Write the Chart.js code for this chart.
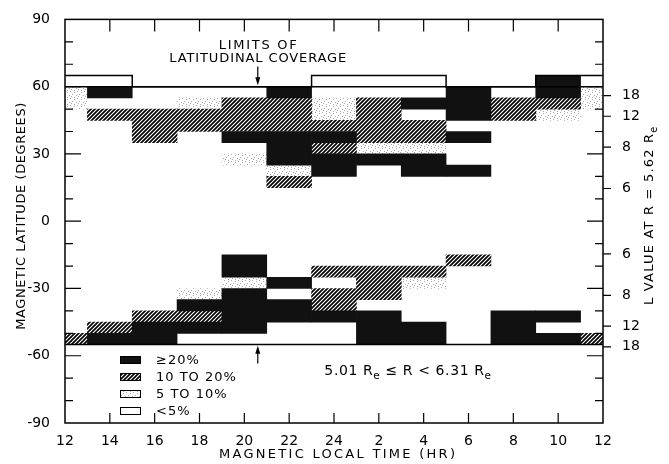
<!DOCTYPE html>
<html>
<head>
<meta charset="utf-8">
<script src="https://cdn.jsdelivr.net/npm/chart.js@4.4.0/dist/chart.umd.min.js"></script>
<style>
  html, body { margin: 0; padding: 0; background: #fff; }
  #wrap { width: 669px; height: 464px; }
</style>
</head>
<body>
<div id="wrap"><canvas id="chart"></canvas></div>
<script>
// column centres in hours (12 .. 36, where 26 = 02 LT, 36 = 12 LT)
const HOURS = [12, 14, 16, 18, 20, 22, 24, 26, 28, 30, 32, 34, 36]

// limits of latitudinal coverage per column
const COVER_TOP   = [65, 65, 60, 60, 60, 60, 65, 65, 65, 60, 60, 65, 65]
const COVER_NORTH = [60, 60, 60, 60, 60, 60, 60, 60, 60, 60, 60, 60, 60]
const COVER_SOUTH = [-55, -55, -55, -55, -55, -55, -55, -55, -55, -55, -55, -55, -55]

// right axis: L values at R = 5.62 Re
const L_VALUES = [6, 8, 12, 18]
const L_RADIUS = 5.62

// cells: [hour, lat from, lat to]
const CELLS_20_UP = [
    [14, 55, 60], [20, 35, 40], [22, 55, 60], [22, 25, 40], [24, 35, 40], [24, 20, 30],
    [26, 25, 30], [28, 50, 55], [28, 20, 30], [30, 45, 60], [30, 35, 40], [30, 20, 25],
    [34, 55, 65],
    [14, -55, -50], [16, -55, -45], [18, -40, -35], [18, -50, -45], [20, -25, -15],
    [20, -50, -30], [22, -30, -25], [22, -45, -35], [24, -45, -40], [26, -55, -40],
    [28, -55, -45], [32, -55, -40], [34, -45, -40], [34, -55, -50]
]
const CELLS_10_20 = [
    [14, 45, 50], [16, 35, 50], [18, 40, 50], [20, 40, 55], [22, 40, 55], [22, 15, 20],
    [24, 40, 45], [24, 30, 35], [26, 35, 55], [28, 35, 45], [32, 45, 55], [34, 50, 55],
    [12, -55, -50], [14, -50, -45], [16, -45, -40], [18, -45, -40], [24, -25, -20],
    [24, -40, -30], [26, -35, -20], [28, -25, -20], [30, -20, -15], [36, -55, -50]
]
const CELLS_5_10 = [
    [12, 50, 60], [18, 50, 55], [20, 25, 30], [22, 20, 25], [24, 45, 55], [26, 30, 35],
    [28, 30, 35], [34, 45, 50], [36, 50, 60],
    [18, -35, -30], [20, -30, -25], [28, -30, -25]
]

const LEGEND_LABELS = ['\u226520%', '10 TO 20%', '5 TO 10%', '<5%']

const FONT = "'DejaVu Sans', sans-serif"


function makeHatch() {
    const c = document.createElement('canvas')
    c.width = 4; c.height = 4
    const g = c.getContext('2d')
    g.fillStyle = '#fff'
    g.fillRect(0, 0, 4, 4)
    g.strokeStyle = '#000'
    g.lineWidth = 1.7
    g.beginPath()
    g.moveTo(-1, 5); g.lineTo(5, -1)
    g.moveTo(-1, 1); g.lineTo(1, -1)
    g.moveTo(3, 5); g.lineTo(5, 3)
    g.stroke()
    return g.createPattern(c, 'repeat')
}

function makeStipple() {
    const c = document.createElement('canvas')
    c.width = 7; c.height = 7
    const g = c.getContext('2d')
    g.fillStyle = '#fff'
    g.fillRect(0, 0, 7, 7)
    g.fillStyle = '#a8a8a8'
    g.fillRect(0, 0, 1, 1)
    g.fillRect(4, 1, 1, 1)
    g.fillRect(2, 3, 1, 1)
    g.fillRect(6, 4, 1, 1)
    g.fillRect(1, 5, 1, 1)
    g.fillRect(4, 6, 1, 1)
    return g.createPattern(c, 'repeat')
}

const HATCH = makeHatch()
const STIPPLE = makeStipple()

function toBars(cells) {
    return cells.map(c => ({ x: c[0], y: [c[1], c[2]] }))
}

function toLine(values) {
    return HOURS.map((h, i) => ({ x: h, y: values[i] }))
}

function lLatitudes() {
    const out = []
    L_VALUES.forEach(l => {
        const lat = Math.acos(Math.sqrt(L_RADIUS / l)) * 180 / Math.PI
        out.push(lat, -lat)
    })
    return out.sort((a, b) => a - b)
}

function spaced(ctx, text, cx, cy, width) {
    ctx.letterSpacing = '0px'
    const w = ctx.measureText(text).width
    ctx.letterSpacing = ((width - w) / (text.length - 1)) + 'px'
    ctx.textAlign = 'left'
    ctx.fillText(text, cx - width / 2, cy)
    ctx.letterSpacing = '0px'
}

function rich(ctx, parts, cx, cy, size, spacing) {
    ctx.letterSpacing = spacing + 'px'
    let w = 0
    parts.forEach(p => {
        ctx.font = (p.sub ? size * 0.75 : size) + 'px ' + FONT
        w += ctx.measureText(p.t).width
    })
    let px = cx - w / 2
    ctx.textAlign = 'left'
    parts.forEach(p => {
        ctx.font = (p.sub ? size * 0.75 : size) + 'px ' + FONT
        ctx.fillText(p.t, px, cy + (p.sub ? size * 0.35 : 0))
        px += ctx.measureText(p.t).width
    })
    ctx.letterSpacing = '0px'
}

function arrow(ctx, x, y0, y1) {
    const dir = y1 > y0 ? 1 : -1
    ctx.beginPath()
    ctx.moveTo(x, y0)
    ctx.lineTo(x, y1 - dir * 6)
    ctx.stroke()
    ctx.beginPath()
    ctx.moveTo(x, y1)
    ctx.lineTo(x - 2.5, y1 - dir * 8)
    ctx.lineTo(x + 2.5, y1 - dir * 8)
    ctx.closePath()
    ctx.fill()
}


const decor = {
    id: 'decor',
    afterDraw(chart) {
        const { ctx, chartArea: a, scales } = chart
        const x = scales.x, y = scales.y, y2 = scales.y2
        ctx.save()
        ctx.strokeStyle = '#000'
        ctx.fillStyle = '#000'

        // frame
        ctx.lineWidth = 1.5
        ctx.strokeRect(a.left, a.top, a.right - a.left, a.bottom - a.top)

        // inward ticks
        ctx.lineWidth = 1.2
        ctx.beginPath()
        for (let lat = -80; lat <= 80; lat += 10) {
            const py = y.getPixelForValue(lat)
            const len = lat % 30 === 0 ? 16 : 8
            ctx.moveTo(a.left, py); ctx.lineTo(a.left + len, py)
            ctx.moveTo(a.right, py); ctx.lineTo(a.right - len, py)
        }
        for (let h = 14; h <= 34; h += 2) {
            const px = x.getPixelForValue(h)
            ctx.moveTo(px, a.bottom); ctx.lineTo(px, a.bottom - 10)
            ctx.moveTo(px, a.top); ctx.lineTo(px, a.top + 12)
        }
        y2.ticks.forEach(t => {
            const py = y2.getPixelForValue(t.value)
            ctx.moveTo(a.right, py); ctx.lineTo(a.right + 8, py)
        })
        ctx.stroke()

        // axis titles
        ctx.textBaseline = 'middle'
        ctx.font = '13px ' + FONT
        spaced(ctx, 'MAGNETIC LOCAL TIME (HR)', (a.left + a.right) / 2 + 3, a.bottom + 32, 236)

        ctx.save()
        ctx.translate(22, (a.top + a.bottom) / 2 - 5)
        ctx.rotate(-Math.PI / 2)
        spaced(ctx, 'MAGNETIC LATITUDE (DEGREES)', 0, 0, 227)
        ctx.restore()

        ctx.save()
        ctx.translate(a.right + 47, (a.top + a.bottom) / 2 - 6)
        ctx.rotate(-Math.PI / 2)
        rich(ctx, [{ t: 'L VALUE AT R = 5.62 R' }, { t: 'e', sub: true }], 0, 0, 13, 1.2)
        ctx.restore()

        // coverage annotation
        const ax = x.getPixelForValue(20.6)
        ctx.font = '13px ' + FONT
        spaced(ctx, 'LIMITS OF', ax, a.top + 26, 78)
        spaced(ctx, 'LATITUDINAL COVERAGE', ax, a.top + 39, 177)
        ctx.lineWidth = 1.2
        arrow(ctx, ax, y.getPixelForValue(69), y.getPixelForValue(60.6))
        arrow(ctx, ax, y.getPixelForValue(-63.5), y.getPixelForValue(-55.6))

        // radial range
        rich(ctx, [
            { t: '5.01 R' }, { t: 'e', sub: true }, { t: ' \u2264 R < 6.31 R' }, { t: 'e', sub: true }
        ], x.getPixelForValue(27.3), a.bottom - 52, 14, 0.6)

        // legend
        const fills = ['#111', HATCH, STIPPLE, '#fff']
        const lx = a.left + 55
        ctx.font = '13px ' + FONT
        ctx.textBaseline = 'middle'
        LEGEND_LABELS.forEach((lab, i) => {
            const ly = a.bottom - 63 + i * 17
            ctx.fillStyle = fills[i]
            ctx.fillRect(lx, ly - 4, 21, 8)
            ctx.lineWidth = 1
            ctx.strokeStyle = '#000'
            ctx.strokeRect(lx + 0.5, ly - 3.5, 20, 7)
            ctx.fillStyle = '#000'
            ctx.textAlign = 'left'
            ctx.letterSpacing = '1px'
            ctx.fillText(lab, lx + 36, ly + 1)
            ctx.letterSpacing = '0px'
        })

        ctx.restore()
    }
}


const barBase = {
    type: 'bar',
    grouped: false,
    barPercentage: 1,
    categoryPercentage: 1,
    borderWidth: 0,
    clip: 0,
    order: 2,
    yAxisID: 'y'
}

const lineBase = {
    type: 'line',
    borderColor: '#000',
    borderWidth: 1.5,
    pointRadius: 0,
    fill: false,
    order: 0,
    yAxisID: 'y'
}

const L_LATS = lLatitudes()

new Chart(document.getElementById('chart'), {
    type: 'bar',
    data: {
        datasets: [
            { ...lineBase, label: 'coverage', data: toLine(COVER_TOP), stepped: 'middle' },
            { ...lineBase, label: 'north', data: toLine(COVER_NORTH) },
            { ...lineBase, label: 'south', data: toLine(COVER_SOUTH) },
            { ...barBase, label: LEGEND_LABELS[0], data: toBars(CELLS_20_UP), backgroundColor: '#111' },
            { ...barBase, label: LEGEND_LABELS[1], data: toBars(CELLS_10_20), backgroundColor: HATCH },
            { ...barBase, label: LEGEND_LABELS[2], data: toBars(CELLS_5_10), backgroundColor: STIPPLE }
        ]
    },
    options: {
        responsive: true,
        maintainAspectRatio: false,
        animation: false,
        events: [],
        layout: { padding: { top: 14, left: 0, right: 0, bottom: 0 } },
        plugins: { legend: { display: false }, tooltip: { enabled: false } },
        scales: {
            x: {
                type: 'linear',
                min: 12, max: 36,
                offset: false,
                grid: { display: false },
                border: { display: false },
                afterFit: s => { s.height = 41 },
                ticks: {
                    stepSize: 2,
                    padding: 2,
                    color: '#000',
                    font: { family: FONT, size: 14 },
                    maxRotation: 0,
                    autoSkip: false,
                    callback: v => String(v > 24 ? v - 24 : v)
                }
            },
            y: {
                type: 'linear',
                position: 'left',
                min: -90, max: 90,
                grid: { display: false },
                border: { display: false },
                afterFit: s => { s.width = 65 },
                ticks: {
                    stepSize: 30,
                    padding: 7,
                    color: '#000',
                    font: { family: FONT, size: 14 },
                    callback: v => String(v)
                }
            },
            y2: {
                type: 'linear',
                position: 'right',
                min: -90, max: 90,
                grid: { display: false },
                border: { display: false },
                afterFit: s => { s.width = 66 },
                afterBuildTicks: s => { s.ticks = L_LATS.map(v => ({ value: v })) },
                ticks: {
                    autoSkip: false,
                    padding: 11,
                    color: '#000',
                    font: { family: FONT, size: 14 },
                    callback: v => {
                        const c = Math.cos(v * Math.PI / 180)
                        return String(Math.round(L_RADIUS / (c * c)))
                    }
                }
            }
        }
    },
    plugins: [decor]
})
</script>
</body>
</html>
